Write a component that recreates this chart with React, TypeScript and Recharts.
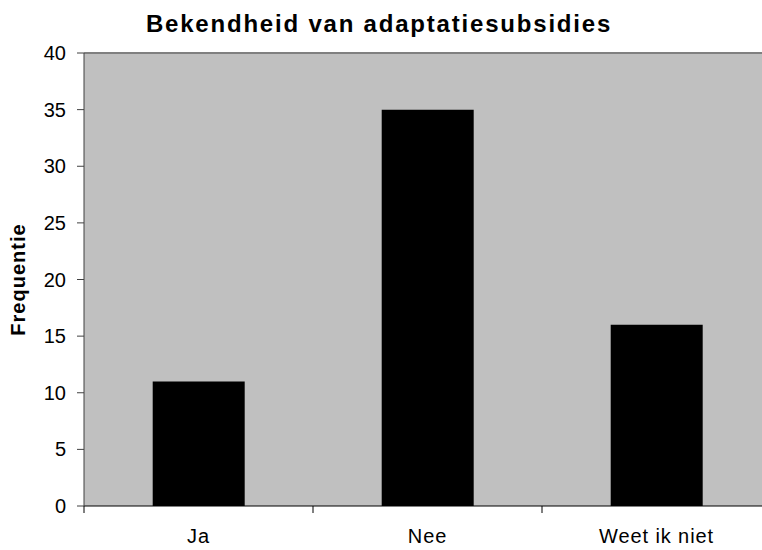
import { BarChart, Bar, XAxis, YAxis, CartesianGrid, ReferenceLine, Label } from "recharts";

const categories = ["Ja", "Nee", "Weet ik niet"];
const frequencies = [11, 35, 16];
const yTicks = [0, 5, 10, 15, 20, 25, 30, 35, 40];

const data = categories.map((name, i) => ({ name, value: frequencies[i] }));

const FONT = "Arial, 'Liberation Sans', sans-serif";

// Excel-style category tick: marks sit on the category boundaries, not the centres
const CategoryTick = (props: any) => {
  const { x, y, payload, index, visibleTicksCount } = props;
  const half = payload.offset || 0;
  const isLast = index === visibleTicksCount - 1;
  return (
    <g>
      <line x1={x - half} x2={x - half} y1={y} y2={y + 7} stroke="#000" />
      {isLast && <line x1={x + half} x2={x + half} y1={y} y2={y + 7} stroke="#000" />}
      <text
        x={x}
        y={y + 23}
        dy="0.71em"
        textAnchor="middle"
        fill="#000"
        fontSize={20}
        fontFamily={FONT}
        letterSpacing={0.9}
      >
        {payload.value}
      </text>
    </g>
  );
};

export default function App() {
  return (
    <div style={{ position: "relative", width: 762, height: 550, overflow: "hidden", fontFamily: FONT }}>
      <style>{`html, body { margin: 0; overflow: hidden; }`}</style>
      <div
        style={{
          position: "absolute",
          left: 0,
          top: 10,
          width: 758,
          textAlign: "center",
          fontWeight: "bold",
          fontSize: 24,
          letterSpacing: 1.8,
          color: "#000",
        }}
      >
        Bekendheid van adaptatiesubsidies
      </div>
      <BarChart
        width={771}
        height={550}
        data={data}
        margin={{ top: 53, right: 0, bottom: 0, left: 8 }}
        barCategoryGap="30%"
      >
        <CartesianGrid fill="#C0C0C0" horizontal={false} vertical={false} />
        <XAxis
          dataKey="name"
          stroke="#000"
          tickLine={false}
          tickSize={0}
          tickMargin={0}
          interval={0}
          height={44}
          tick={<CategoryTick />}
        />
        <YAxis
          width={76}
          domain={[0, 40]}
          ticks={yTicks}
          tickSize={7}
          tickMargin={11}
          stroke="#404040"
          tick={{ fill: "#000", fontSize: 20, fontFamily: FONT }}
        >
          <Label
            value="Frequentie"
            angle={-90}
            position="insideLeft"
            offset={10}
            style={{ textAnchor: "middle", fontWeight: "bold", fontSize: 20, fill: "#000", fontFamily: FONT, letterSpacing: 1 }}
          />
        </YAxis>
        <ReferenceLine y={40} stroke="#808080" strokeWidth={2} />
        <Bar dataKey="value" fill="#000" isAnimationActive={false} />
      </BarChart>
    </div>
  );
}
